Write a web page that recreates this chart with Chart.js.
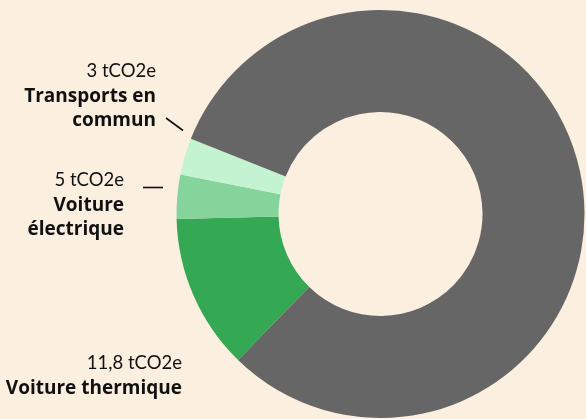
<!DOCTYPE html>
<html lang="fr">
<head>
<meta charset="utf-8">
<title>Empreinte carbone</title>
<script src="https://cdn.jsdelivr.net/npm/chart.js@4"></script>
<style>
  html, body { margin: 0; padding: 0; background: #fbefe0; }
  #chart { display: block; }
</style>
</head>
<body>
<canvas id="chart" width="586" height="419"></canvas>
<script>
var categories = ['Voiture thermique', 'Voiture électrique', 'Transports en commun', 'Autres'];
var emissions = [11.8, 5, 3, null];
// share of the ring, in percent
var shares = [12.3, 3.5, 2.9, 81.3];
var colors = ['#35a853', '#85d49b', '#c4f3d1', '#666666'];

// where the text blocks sit (right edge, first baseline) and their leader lines
var labelLayout = [
  { x: 182, y: 369, lines: ['Voiture thermique'], leader: null },
  { x: 124, y: 186, lines: ['Voiture', 'électrique'], leader: [143, 187.5, 163, 187.5] },
  { x: 156, y: 77, lines: ['Transports en', 'commun'], leader: [166, 118, 183, 130.5] }
];

function formatValue(v) {
  return String(v).replace('.', ',') + ' tCO2e';
}

var sideLabels = {
  id: 'sideLabels',
  afterDraw: function (chart) {
    var ctx = chart.ctx;
    ctx.save();
    ctx.fillStyle = '#111111';
    ctx.strokeStyle = '#111111';
    ctx.textAlign = 'right';
    ctx.textBaseline = 'alphabetic';
    labelLayout.forEach(function (layout, i) {
      var y = layout.y;
      ctx.font = '400 18.5px Lato';
      ctx.fillText(formatValue(emissions[i]), layout.x, y);
      ctx.font = '700 19px "Open Sans"';
      layout.lines.forEach(function (line) {
        y += 24.5;
        ctx.fillText(line, layout.x, y);
      });
      if (layout.leader) {
        ctx.lineWidth = 1.6;
        ctx.beginPath();
        ctx.moveTo(layout.leader[0], layout.leader[1]);
        ctx.lineTo(layout.leader[2], layout.leader[3]);
        ctx.stroke();
      }
    });
    ctx.restore();
  }
};

new Chart(document.getElementById('chart'), {
  type: 'doughnut',
  data: {
    labels: categories,
    datasets: [
      {
        data: shares,
        backgroundColor: colors,
        borderWidth: 0,
        hoverOffset: 0
      }
    ]
  },
  options: {
    responsive: false,
    animation: false,
    rotation: 224.3,
    cutout: '50%',
    layout: {
      padding: { left: 175, right: 0, top: 10, bottom: 1 }
    },
    plugins: {
      legend: { display: false },
      tooltip: { enabled: false }
    },
    events: []
  },
  plugins: [sideLabels]
});
</script>
</body>
</html>
